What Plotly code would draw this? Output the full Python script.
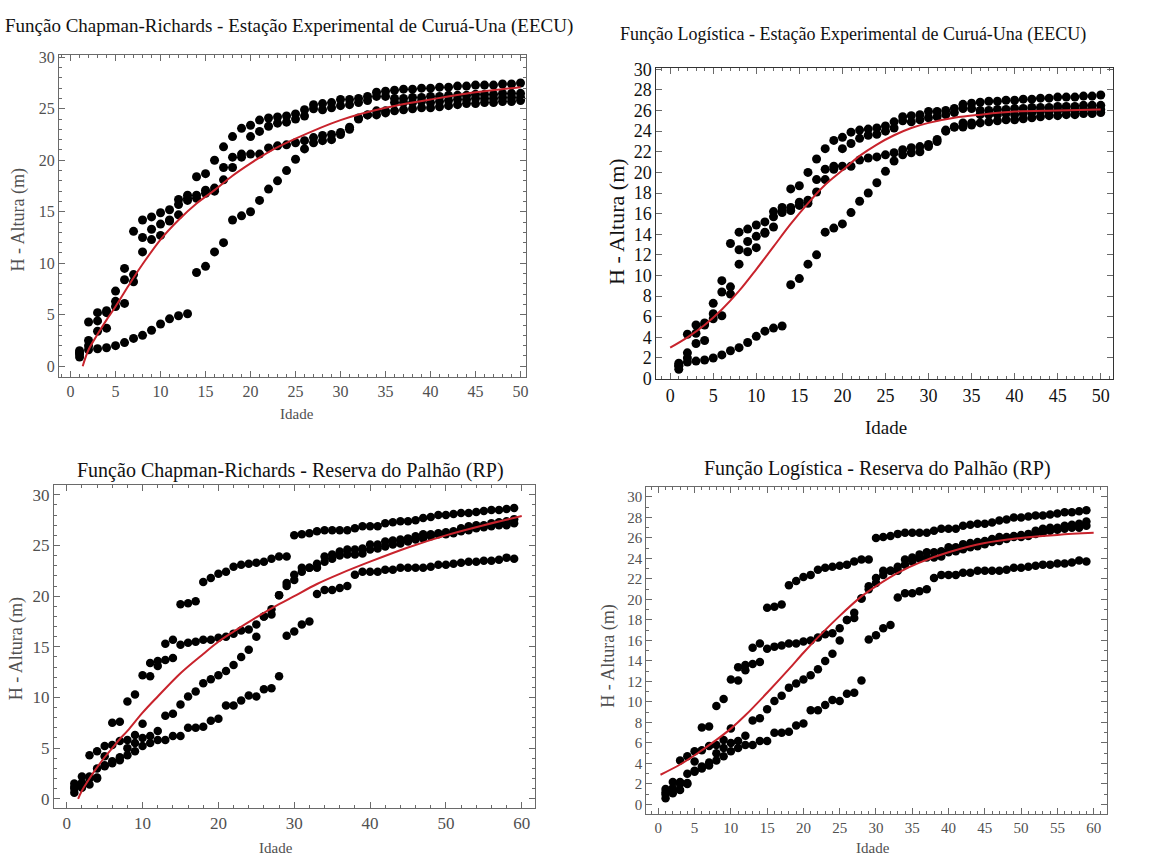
import plotly.graph_objects as go

W, H = 1171, 866

# ---------------- EECU data (4 trees, ages 1..50) ----------------
eecu_age = list(range(1, 51))
eecu_t1 = [1.5, 4.3, 5.2, 5.4, 7.3, 9.5, 13.1, 14.2, 14.5, 14.9, 15.2, 16.2, 16.6, 18.4, 18.7, 20.0, 21.3, 22.3, 23.1, 23.4,
           23.9, 24.1, 24.2, 24.3, 24.5, 24.9, 25.4, 25.5, 25.6, 25.9, 25.9, 26.0, 26.2, 26.6, 26.7, 26.8, 26.9, 26.9, 27.0, 27.0,
           27.1, 27.1, 27.2, 27.2, 27.3, 27.3, 27.3, 27.4, 27.4, 27.5]
eecu_t2 = [1.2, 2.5, 4.4, 5.2, 6.3, 8.4, 8.9, 12.5, 13.3, 13.8, 14.2, 15.7, 16.1, 16.6, 17.1, 17.3, 19.3, 20.3, 20.6, 22.3,
           22.8, 23.3, 23.6, 23.7, 24.0, 24.3, 25.0, 24.9, 25.1, 25.3, 25.4, 25.6, 25.8, 26.2, 26.2, 26.0, 26.0, 26.1, 26.1, 26.2,
           26.2, 26.3, 26.3, 26.3, 26.4, 26.4, 26.4, 26.5, 26.5, 26.5]
eecu_t3 = [0.9, 2.0, 3.4, 3.7, 5.8, 6.1, 8.2, 11.1, 12.3, 12.7, 14.1, 14.7, 16.3, 16.3, 16.8, 17.0, 18.1, 19.3, 20.3, 20.6,
           20.6, 21.2, 21.4, 21.5, 21.7, 21.9, 22.2, 22.4, 22.5, 22.7, 23.2, 24.1, 24.4, 24.8, 24.8, 25.6, 25.6, 25.6, 25.7, 25.6,
           25.7, 25.8, 25.9, 25.9, 26.0, 26.0, 26.0, 26.1, 26.1, 26.1]
eecu_t4 = [1.3, 1.6, 1.7, 1.8, 2.0, 2.3, 2.7, 3.0, 3.5, 4.1, 4.6, 4.9, 5.1, 9.1, 9.7, 11.1, 12.0, 14.2, 14.6, 15.0,
           16.1, 17.2, 18.0, 19.0, 20.1, 21.1, 21.7, 21.9, 22.0, 22.5, 23.0, 24.0, 24.4, 24.4, 24.6, 24.8, 24.9, 25.0, 25.1, 25.1,
           25.2, 25.3, 25.4, 25.5, 25.5, 25.6, 25.6, 25.7, 25.7, 25.8]

# fitted curves
eecu_cr_t = [1.35, 2, 3, 4, 5, 6, 7, 8, 10, 12, 14, 16, 18, 20, 22, 25, 30, 35, 40, 45, 50]
eecu_cr_h = [0.0, 1.6, 3.1, 4.5, 5.8, 7.2, 8.6, 9.9, 12.3, 14.2, 15.8, 17.1, 18.5, 19.7, 20.8, 22.1, 23.9, 25.1, 25.9, 26.6, 27.1]
eecu_lg_t = [0, 2, 4, 6, 8, 10, 12, 14, 16, 18, 20, 22, 24, 26, 28, 30, 33, 36, 40, 45, 50]
eecu_lg_h = [3.0, 4.0, 5.2, 6.7, 8.5, 10.6, 12.8, 15.0, 17.0, 18.8, 20.2, 21.6, 22.7, 23.6, 24.3, 24.8, 25.3, 25.6, 25.9, 26.0, 26.1]

# ---------------- RP data (4 trees, ages 1..59) ----------------
rp_age = list(range(1, 60))
rp_t1 = [1.5, 2.2, 4.3, 4.7, 5.2, 7.5, 7.6, 9.6, 10.3, 12.2, 12.1, 13.6, 15.3, 15.7, 19.2, 19.3, 19.5, 21.4, 21.8, 22.2,
         22.4, 22.9, 23.1, 23.2, 23.3, 23.4, 23.7, 23.9, 23.9, 26.0, 26.1, 26.2, 26.4, 26.5, 26.5, 26.5, 26.5, 26.7, 26.9, 26.9,
         26.9, 27.2, 27.3, 27.4, 27.4, 27.5, 27.7, 27.8, 28.0, 28.0, 28.1, 28.2, 28.2, 28.3, 28.4, 28.5, 28.5, 28.6, 28.7]
rp_t2 = [1.2, 1.6, 2.2, 3.0, 4.2, 5.3, 5.7, 5.8, 6.3, 7.4, 13.4, 13.1, 13.7, 13.9, 15.2, 15.4, 15.5, 15.7, 15.7, 15.9,
         16.0, 16.3, 16.6, 16.7, 17.2, 18.0, 18.7, 20.1, 21.3, 22.1, 22.8, 22.8, 23.2, 23.9, 24.1, 24.4, 24.6, 24.6, 24.7, 25.1,
         25.1, 25.4, 25.5, 25.6, 25.7, 25.9, 26.1, 26.1, 26.2, 26.3, 26.4, 26.7, 26.9, 27.0, 27.0, 27.2, 27.3, 27.4, 27.6]
rp_t3 = [1.0, 1.4, 2.0, 2.1, 3.3, 3.7, 4.1, 5.0, 5.5, 6.0, 6.2, 6.7, 8.2, 8.4, 9.3, 10.1, 10.6, 11.4, 11.8, 12.2,
         12.6, 13.2, 14.0, 14.7, 16.0, 18.0, 18.2, 20.1, 21.0, 21.6, 22.4, 22.8, 22.8, 23.4, 23.7, 24.0, 24.1, 24.1, 24.2, 24.6,
         24.7, 24.9, 25.1, 25.2, 25.4, 25.6, 25.7, 25.9, 26.1, 26.1, 26.2, 26.4, 26.5, 26.7, 26.8, 26.9, 27.0, 27.0, 27.2]
rp_t4 = [0.6, 1.1, 1.4, 2.0, 3.2, 3.5, 3.8, 4.3, 4.7, 5.2, 5.5, 5.8, 5.8, 6.2, 6.2, 7.0, 7.0, 7.1, 7.7, 7.9,
         9.2, 9.2, 9.7, 10.2, 10.1, 10.8, 10.9, 12.1, 16.1, 16.5, 17.2, 17.5, 20.2, 20.6, 20.6, 20.8, 21.0, 22.1, 22.4, 22.4,
         22.4, 22.6, 22.6, 22.8, 22.8, 22.8, 22.8, 22.9, 23.1, 23.1, 23.2, 23.3, 23.4, 23.4, 23.5, 23.5, 23.6, 23.8, 23.7]

rp_cr_t = [1.5, 2, 3, 4, 5, 6, 7, 8, 10, 12, 15, 18, 20, 22, 25, 28, 30, 33, 36, 40, 45, 50, 55, 60]
rp_cr_h = [0.0, 0.8, 2.0, 3.1, 4.1, 5.0, 5.9, 6.7, 8.5, 10.1, 12.4, 14.3, 15.5, 16.5, 17.9, 19.2, 20.0, 21.2, 22.2, 23.4, 24.8, 26.0, 27.0, 27.9]
rp_lg_t = [0.3, 3, 5, 8, 10, 12, 15, 18, 20, 22, 25, 28, 30, 33, 36, 40, 45, 50, 55, 60]
rp_lg_h = [2.9, 3.9, 4.8, 6.3, 7.4, 8.7, 10.9, 13.2, 14.8, 16.3, 18.4, 20.3, 21.3, 22.6, 23.6, 24.6, 25.5, 26.0, 26.3, 26.5]

titles = ["Função Chapman-Richards - Estação Experimental de Curuá-Una (EECU)",
          "Função Logística - Estação Experimental de Curuá-Una (EECU)",
          "Função Chapman-Richards - Reserva do Palhão (RP)",
          "Função Logística - Reserva do Palhão (RP)"]
xlabel = "Idade"
ylabel = "H - Altura (m)"

RED = "#c8232c"
FONT = "'Liberation Serif', 'Times New Roman', Times, serif"

fig = go.Figure()

panels = [
    dict(frame=(59, 527, 48, 377), xr=[-1.3, 50.57], yr=[-1.06, 30.22], ages=eecu_age,
         trees=[eecu_t1, eecu_t2, eecu_t3, eecu_t4], ct=eecu_cr_t, ch=eecu_cr_h,
         xd=5, xm=1, yd=5, ym=1, tick=16, tcol="#505050", xlab=15, ylab=18, title=19, ms=9,
         tpos=(290, 18), xlpos=(298, 415), ylpos=(19, 216)),
    dict(frame=(658, 1116, 61, 379), xr=[-1.61, 51.44], yr=[-0.05, 30.15], ages=eecu_age,
         trees=[eecu_t1, eecu_t2, eecu_t3, eecu_t4], ct=eecu_lg_t, ch=eecu_lg_h,
         xd=5, xm=1, yd=2, ym=None, tick=18, tcol="#111111", xlab=19, ylab=22, title=18, ms=9,
         tpos=(855, 27), xlpos=(888, 428), ylpos=(618, 218)),
    dict(frame=(54, 536, 487, 817), xr=[-1.7, 61.7], yr=[-0.91, 30.98], ages=rp_age,
         trees=[rp_t1, rp_t2, rp_t3, rp_t4], ct=rp_cr_t, ch=rp_cr_h,
         xd=10, xm=2, yd=5, ym=1, tick=17, tcol="#505050", xlab=15, ylab=18, title=20, ms=8.5,
         tpos=(291, 472), xlpos=(277, 858), ylpos=(16, 654)),
    dict(frame=(648, 1110, 489, 823), xr=[-1.65, 61.86], yr=[-0.92, 30.99], ages=rp_age,
         trees=[rp_t1, rp_t2, rp_t3, rp_t4], ct=rp_lg_t, ch=rp_lg_h,
         xd=5, xm=1, yd=2, ym=1, tick=15, tcol="#505050", xlab=15, ylab=18, title=20, ms=8.5,
         tpos=(880, 470), xlpos=(875, 858), ylpos=(610, 662)),
]

annotations = []
for i, p in enumerate(panels, start=1):
    sfx = "" if i == 1 else str(i)
    xa, ya = "x" + sfx, "y" + sfx
    for tree in p["trees"]:
        fig.add_trace(go.Scatter(x=p["ages"], y=tree, mode="markers", xaxis=xa, yaxis=ya,
                                 marker=dict(color="black", size=p["ms"]), showlegend=False, hoverinfo="x+y"))
    fig.add_trace(go.Scatter(x=p["ct"], y=p["ch"], mode="lines", xaxis=xa, yaxis=ya,
                             line=dict(color=RED, width=2, shape="spline"), showlegend=False))
    l, r, t, b = p["frame"]
    axcommon = dict(showline=True, linecolor="#6a6a6a", linewidth=1, mirror="allticks",
                    ticks="inside", ticklen=6, tickcolor="#6a6a6a", showgrid=False, zeroline=False,
                    tickfont=dict(family=FONT, size=p["tick"], color=p["tcol"]))
    xminor = dict(ticks="inside", ticklen=3, dtick=p["xm"], tickcolor="#6a6a6a", showgrid=False)
    xaxis = dict(axcommon, domain=[l / W, r / W], range=p["xr"], dtick=p["xd"], tick0=0,
                 anchor=ya, minor=xminor)
    yaxis = dict(axcommon, domain=[1 - b / H, 1 - t / H], range=p["yr"], dtick=p["yd"], tick0=0,
                 anchor=xa)
    if p["ym"]:
        yaxis["minor"] = dict(ticks="inside", ticklen=3, dtick=p["ym"], tickcolor="#6a6a6a", showgrid=False)
    if i == 2:
        xaxis["linecolor"] = "#333333"
        yaxis["linecolor"] = "#333333"
    fig.layout["xaxis" + sfx] = xaxis
    fig.layout["yaxis" + sfx] = yaxis

    annotations.append(dict(text=titles[i - 1], x=p["tpos"][0] / W, y=1 - p["tpos"][1] / H,
                            xref="paper", yref="paper", showarrow=False, xanchor="center", yanchor="middle",
                            font=dict(family=FONT, size=p["title"], color="#111111")))
    annotations.append(dict(text=xlabel, x=p["xlpos"][0] / W, y=1 - p["xlpos"][1] / H,
                            xref="paper", yref="paper", showarrow=False, xanchor="center", yanchor="middle",
                            font=dict(family=FONT, size=p["xlab"], color=p["tcol"])))
    annotations.append(dict(text=ylabel, x=p["ylpos"][0] / W, y=1 - p["ylpos"][1] / H, textangle=-90,
                            xref="paper", yref="paper", showarrow=False, xanchor="center", yanchor="middle",
                            font=dict(family=FONT, size=p["ylab"], color=p["tcol"])))

fig.update_layout(width=W, height=H, margin=dict(l=0, r=0, t=0, b=0),
                  paper_bgcolor="white", plot_bgcolor="white", annotations=annotations,
                  font=dict(family=FONT))

fig.write_html("out.html")
